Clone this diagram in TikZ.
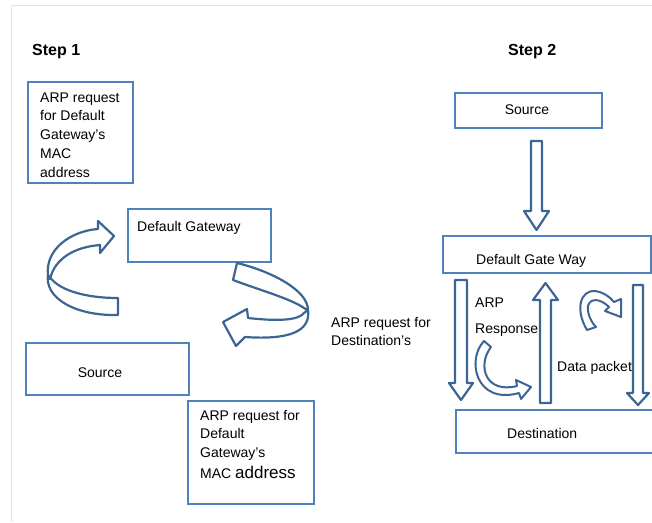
\documentclass[tikz,border=0pt]{standalone}
\usepackage{fontspec}
\setmainfont{Liberation Sans}
\definecolor{boxblue}{HTML}{4F81BD}
\definecolor{arrblue}{HTML}{3D6594}
\definecolor{framecol}{HTML}{DCE6F2}
\tikzset{
  box/.style={draw=boxblue, line width=2pt, inner sep=0pt},
  txt/.style={anchor=base west, inner sep=0pt, font=\fontsize{14}{17}\selectfont},
  steptxt/.style={anchor=base west, inner sep=0pt, font=\fontsize{16}{19}\selectfont\bfseries},
  blockarrow/.style={draw=arrblue, fill=white, line width=2.2pt, line join=round},
}
\begin{document}
\begin{tikzpicture}[x=1pt,y=-1pt]
\useasboundingbox (0,0) rectangle (652,522);
\clip (0,0) rectangle (652,522);
% frame
\draw[framecol, line width=1.2pt] (11.5,522) -- (11.5,5.5) -- (652,5.5);

% ---- Step 1 ----
\node[steptxt] (step1) at (32,55) {Step 1};
\node[box, minimum width=105pt, minimum height=101pt] (a1) at (80.5,132.5) {};
\node[txt] (a1l1) at (40,102) {ARP request};
\node[txt] (a1l2) at (40,120) {for Default};
\node[txt] (a1l3) at (40,139) {Gateway’s};
\node[txt] (a1l4) at (40,158) {MAC};
\node[txt] (a1l5) at (40,177) {address};

\node[box, minimum width=143pt, minimum height=53pt] (dg) at (199.5,235.5) {};
\node[txt] (dgt) at (137,231) {Default Gateway};

\node[box, minimum width=163pt, minimum height=52pt] (src1) at (107.5,369) {};
\node[txt, anchor=base] (src1t) at (100,377) {Source};

\node[box, minimum width=126pt, minimum height=103pt] (a2) at (251,452.5) {};
\node[txt] (a2l1) at (200,420) {ARP request for};
\node[txt] (a2l2) at (200,438) {Default};
\node[txt] (a2l3) at (200,457) {Gateway’s};
\node[txt] (a2l4) at (200,478) {MAC \fontsize{17}{20}\selectfont address};

\node[txt] (lab1) at (331,327) {ARP request for};
\node[txt] (lab2) at (331,345) {Destination’s};

% left curved arrow (step 1)
\draw[blockarrow] (118,315) .. controls (75,316) and (44,298) .. (48,274)
  .. controls (56,290) and (85,298) .. (118,298) -- cycle;
\draw[blockarrow] (48,275) .. controls (45,250) and (70,231) .. (98,229)
  -- (98,221) -- (114,236) -- (100,253) -- (100,245)
  .. controls (75,247) and (55,258) .. (50,279) -- cycle;

% right curved arrow (step 1)
\draw[blockarrow] (237,263) .. controls (270,271) and (309,290) .. (308,311)
  .. controls (296,300) and (262,291) .. (233,280) -- cycle;
\draw[blockarrow] (308,310) .. controls (311,332) and (288,340) .. (245,337)
  -- (236,346) -- (223,322) -- (247,309) -- (248,318)
  .. controls (275,321) and (298,321) .. (304,313) -- cycle;

% ---- Step 2 ----
\node[steptxt] (step2) at (508,55) {Step 2};
\node[box, minimum width=147pt, minimum height=35pt] (s2) at (528.5,110.5) {};
\node[txt, anchor=base] (s2t) at (527,114) {Source};

\node[box, minimum width=208pt, minimum height=37pt] (dgw) at (547,254.5) {};
\node[txt] (dgwt) at (476,264) {Default Gate Way};

\node[box, minimum width=209pt, minimum height=43pt] (dest) at (560.5,431.5) {};
\node[txt] (destt) at (507,438) {Destination};

% straight block arrows
\draw[blockarrow] (531,141) -- (542,141) -- (542,211) -- (549,211) -- (536.5,230)
  -- (524,211) -- (531,211) -- cycle;
\draw[blockarrow] (455,280) -- (467,280) -- (467,383) -- (473,383) -- (461,400)
  -- (449,383) -- (455,383) -- cycle;
\draw[blockarrow] (540,403) -- (551,403) -- (551,300) -- (558,300) -- (545.5,283)
  -- (533,300) -- (540,300) -- cycle;
\draw[blockarrow] (633,285) -- (643,285) -- (643,393) -- (649,393) -- (638,405)
  -- (627,393) -- (633,393) -- cycle;

% small curved arrows
\draw[blockarrow, line width=2pt] (484,341) .. controls (466,360) and (476,405) .. (519,393)
  -- (521,399) -- (531,387) -- (516,380) -- (517,386)
  .. controls (485,394) and (477,365) .. (491,347) -- cycle;
\draw[blockarrow, line width=2pt] (587,330) .. controls (575,310) and (580,290) .. (595,291)
  .. controls (603,292) and (610,297) .. (614,302) -- (621,299) -- (621,317)
  -- (605,311) -- (609,307) .. controls (600,298) and (590,298) .. (588,306)
  .. controls (587,313) and (591,322) .. (596,327) -- cycle;

\node[txt] (arp) at (475,307) {ARP};
\node[txt] (resp) at (475,333) {Response};
\node[txt] (data) at (557,371) {Data packet};
\end{tikzpicture}
\end{document}
